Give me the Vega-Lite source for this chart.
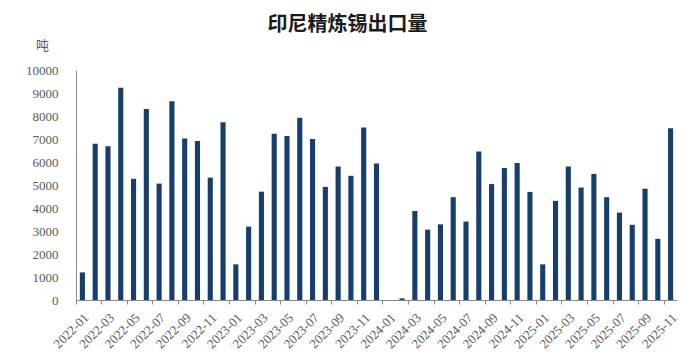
{
  "$schema": "https://vega.github.io/schema/vega-lite/v6.json",
  "width": 601,
  "height": 230,
  "autosize": {"type": "none"},
  "padding": {"left": 76, "top": 70, "right": 17, "bottom": 59},
  "background": "white",
  "title": {
    "text": "印尼精炼锡出口量",
    "font": "Noto Sans CJK SC",
    "fontSize": 20,
    "fontWeight": "bold",
    "color": "#1a1a1a",
    "anchor": "middle",
    "frame": "group",
    "dx": -29,
    "dy": 16,
    "offset": 20
  },
  "data": {
    "values": [
      {"month": "2022-01", "value": 1200},
      {"month": "2022-02", "value": 6790},
      {"month": "2022-03", "value": 6680},
      {"month": "2022-04", "value": 9230},
      {"month": "2022-05", "value": 5270},
      {"month": "2022-06", "value": 8300},
      {"month": "2022-07", "value": 5060},
      {"month": "2022-08", "value": 8640},
      {"month": "2022-09", "value": 7020},
      {"month": "2022-10", "value": 6910},
      {"month": "2022-11", "value": 5320},
      {"month": "2022-12", "value": 7730},
      {"month": "2023-01", "value": 1550},
      {"month": "2023-02", "value": 3190},
      {"month": "2023-03", "value": 4710},
      {"month": "2023-04", "value": 7230},
      {"month": "2023-05", "value": 7130},
      {"month": "2023-06", "value": 7920},
      {"month": "2023-07", "value": 7000},
      {"month": "2023-08", "value": 4920},
      {"month": "2023-09", "value": 5800},
      {"month": "2023-10", "value": 5400},
      {"month": "2023-11", "value": 7500},
      {"month": "2023-12", "value": 5930},
      {"month": "2024-01", "value": 0},
      {"month": "2024-02", "value": 70},
      {"month": "2024-03", "value": 3870},
      {"month": "2024-04", "value": 3060},
      {"month": "2024-05", "value": 3290},
      {"month": "2024-06", "value": 4470},
      {"month": "2024-07", "value": 3410},
      {"month": "2024-08", "value": 6460},
      {"month": "2024-09", "value": 5040},
      {"month": "2024-10", "value": 5740},
      {"month": "2024-11", "value": 5960},
      {"month": "2024-12", "value": 4700},
      {"month": "2025-01", "value": 1550},
      {"month": "2025-02", "value": 4310},
      {"month": "2025-03", "value": 5800},
      {"month": "2025-04", "value": 4890},
      {"month": "2025-05", "value": 5480},
      {"month": "2025-06", "value": 4470},
      {"month": "2025-07", "value": 3800},
      {"month": "2025-08", "value": 3270},
      {"month": "2025-09", "value": 4840},
      {"month": "2025-10", "value": 2660},
      {"month": "2025-11", "value": 7470}
    ]
  },
  "mark": {"type": "bar", "width": {"band": 0.4}, "color": "#173F6C"},
  "encoding": {
    "x": {
      "field": "month",
      "type": "ordinal",
      "sort": null,
      "scale": {"paddingInner": 0, "paddingOuter": 0},
      "axis": {
        "title": null,
        "values": ["2022-01","2022-03","2022-05","2022-07","2022-09","2022-11","2023-01","2023-03","2023-05","2023-07","2023-09","2023-11","2024-01","2024-03","2024-05","2024-07","2024-09","2024-11","2025-01","2025-03","2025-05","2025-07","2025-09","2025-11"],
        "bandPosition": 0,
        "labelAngle": -45,
        "labelFont": "Liberation Serif",
        "labelFontSize": 13,
        "labelColor": "#595959",
        "labelPadding": 7,
        "tickSize": 4,
        "tickColor": "#888888",
        "domainColor": "#888888",
        "grid": false
      }
    },
    "y": {
      "field": "value",
      "type": "quantitative",
      "scale": {"domain": [0, 10000], "nice": false},
      "axis": {
        "values": [0,1000,2000,3000,4000,5000,6000,7000,8000,9000,10000],
        "format": "d",
        "title": "吨",
        "titleAngle": 0,
        "titleX": -34,
        "titleY": -25,
        "titleAlign": "center",
        "titleBaseline": "middle",
        "titleFont": "Noto Sans CJK SC",
        "titleFontSize": 13,
        "titleFontWeight": "normal",
        "titleColor": "#595959",
        "labelFont": "Liberation Serif",
        "labelFontSize": 13,
        "labelColor": "#595959",
        "labelPadding": 18,
        "ticks": false,
        "grid": false,
        "domainColor": "#888888"
      }
    }
  },
  "config": {"view": {"stroke": null}}
}
